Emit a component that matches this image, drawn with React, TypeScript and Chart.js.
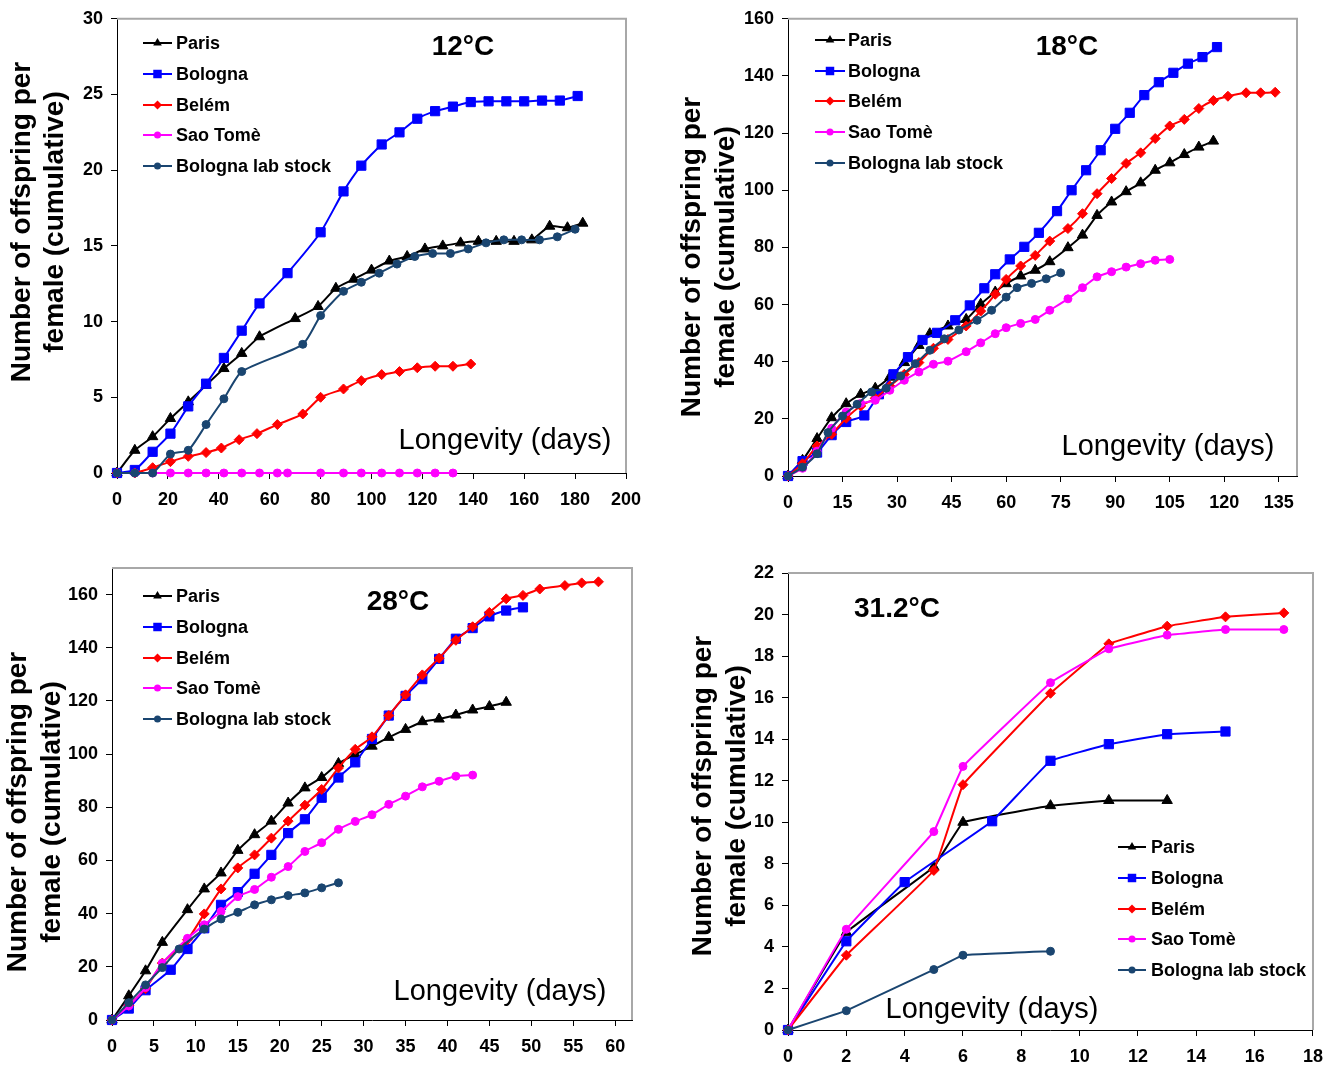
import React, { useEffect, useRef } from 'react';
import { Chart, registerables } from 'chart.js';

Chart.register(...registerables);

const FONT = '"Liberation Sans", Arial, Helvetica, sans-serif';

// ---------- series meta ----------
const seriesNames = ['Paris', 'Bologna', 'Belém', 'Sao Tomè', 'Bologna lab stock'];
const seriesColors = ['#000000', '#0000FF', '#FF0000', '#FF00FF', '#1A4570'];
const seriesMarkers = ['triangle', 'rect', 'rectRot', 'circle', 'circle'];
const markerRadius = [6, 6.5, 5, 4, 4];

// ---------- 12°C ----------
const paris12X = [0, 7, 14, 21, 28, 35, 42, 49, 56, 70, 79, 86, 93, 100, 107, 114, 121, 128, 135, 142, 149, 156, 163, 170, 177, 183];
const paris12Y = [0, 1.5, 2.4, 3.6, 4.7, 5.8, 6.9, 7.9, 9.0, 10.2, 11.0, 12.2, 12.8, 13.4, 14.0, 14.3, 14.8, 15.0, 15.2, 15.3, 15.3, 15.3, 15.4, 16.3, 16.2, 16.5];
const bologna12X = [0, 7, 14, 21, 28, 35, 42, 49, 56, 67, 80, 89, 96, 104, 111, 118, 125, 132, 139, 146, 153, 160, 167, 174, 181];
const bologna12Y = [0, 0.2, 1.4, 2.6, 4.4, 5.9, 7.6, 9.4, 11.2, 13.2, 15.9, 18.6, 20.3, 21.7, 22.5, 23.4, 23.9, 24.2, 24.5, 24.55, 24.55, 24.55, 24.6, 24.6, 24.9];
const belem12X = [0, 7, 14, 21, 28, 35, 41, 48, 55, 63, 73, 80, 89, 96, 104, 111, 118, 125, 132, 139];
const belem12Y = [0, 0, 0.35, 0.75, 1.1, 1.35, 1.65, 2.2, 2.6, 3.2, 3.9, 5.0, 5.55, 6.1, 6.5, 6.7, 6.95, 7.05, 7.05, 7.2];
const saoTome12X = [0, 7, 14, 21, 28, 35, 42, 49, 56, 63, 67, 80, 89, 96, 104, 111, 118, 125, 132];
const saoTome12Y = [0, 0, 0, 0, 0, 0, 0, 0, 0, 0, 0, 0, 0, 0, 0, 0, 0, 0, 0];
const labStock12X = [0, 7, 14, 21, 28, 35, 42, 49, 73, 80, 89, 96, 103, 110, 117, 124, 131, 138, 145, 152, 159, 166, 173, 180];
const labStock12Y = [0, 0, 0, 1.25, 1.5, 3.2, 4.9, 6.7, 8.5, 10.4, 12.0, 12.6, 13.2, 13.8, 14.3, 14.5, 14.5, 14.8, 15.2, 15.4, 15.4, 15.4, 15.6, 16.1];

// ---------- 18°C ----------
const paris18X = [0, 4, 8, 12, 16, 20, 24, 28, 32, 36, 39, 44, 49, 53, 57, 60, 64, 68, 72, 77, 81, 85, 89, 93, 97, 101, 105, 109, 113, 117];
const paris18Y = [0, 5.5, 13.1, 20.4, 25.3, 28.6, 30.7, 34.6, 39.7, 45.7, 49.8, 52.5, 54.8, 60.1, 64.4, 67.3, 70, 72, 75, 79.9, 84.3, 91.2, 95.9, 99.5, 102.6, 107, 109.6, 112.5, 115.1, 117.2];
const bologna18X = [0, 4, 8, 12, 16, 21, 25, 29, 33, 37, 41, 46, 50, 54, 57, 61, 65, 69, 74, 78, 82, 86, 90, 94, 98, 102, 106, 110, 114, 118];
const bologna18Y = [0, 5.2, 8.2, 14.3, 18.9, 21.2, 28.6, 35.6, 41.6, 47.6, 50.1, 54.5, 59.7, 65.7, 70.6, 75.8, 80.2, 85.1, 92.7, 100, 107, 114, 121.5, 127.1, 133.3, 137.8, 141.1, 144.3, 146.6, 150.1];
const belem18X = [0, 4, 8, 12, 16, 20, 24, 28, 32, 36, 40, 44, 49, 53, 57, 60, 64, 68, 72, 77, 81, 85, 89, 93, 97, 101, 105, 109, 113, 117, 121, 126, 130, 134];
const belem18Y = [0, 4.3, 10.5, 14.6, 20.2, 24.5, 27.2, 31.5, 35.6, 39.7, 44.7, 47.8, 52.5, 57.7, 63.6, 68.8, 73.5, 77.2, 82.2, 86.6, 91.8, 98.8, 104.1, 109.4, 113.1, 118.1, 122.5, 124.8, 128.6, 131.4, 132.9, 134.1, 134.1, 134.3];
const saoTome18X = [0, 4, 8, 12, 16, 20, 24, 28, 32, 36, 40, 44, 49, 53, 57, 60, 64, 68, 72, 77, 81, 85, 89, 93, 97, 101, 105];
const saoTome18Y = [0, 2.7, 8.7, 16.7, 22.4, 25.4, 26.5, 30, 33.5, 36.4, 39.1, 40.2, 43.5, 46.6, 49.8, 51.9, 53.4, 54.8, 58, 62, 65.9, 69.7, 71.5, 73.1, 74.3, 75.5, 75.8];
const labStock18X = [0, 4, 8, 11, 15, 19, 23, 27, 31, 35, 39, 43, 47, 52, 56, 60, 63, 67, 71, 75];
const labStock18Y = [0, 3.1, 7.8, 15.2, 21, 25.1, 29.4, 30.7, 35, 39.3, 44, 48, 51.1, 54.5, 58, 62.6, 65.9, 67.4, 69, 71.1];

// ---------- 28°C ----------
const paris28X = [0, 2, 4, 6, 9, 11, 13, 15, 17, 19, 21, 23, 25, 27, 29, 31, 33, 35, 37, 39, 41, 43, 45, 47];
const paris28Y = [0, 9.1, 18.5, 29.2, 41.5, 49.3, 55.3, 63.8, 69.7, 74.8, 81.6, 87.3, 91.2, 96.5, 99.9, 103, 106.3, 109.3, 112.2, 113.2, 114.7, 116.6, 117.9, 119.5];
const bologna28X = [0, 2, 4, 7, 9, 11, 13, 15, 17, 19, 21, 23, 25, 27, 29, 31, 33, 35, 37, 39, 41, 43, 45, 47, 49];
const bologna28Y = [0, 4.3, 11.2, 18.9, 26.7, 34.5, 43.3, 48.1, 55, 62.1, 70.3, 75.5, 83.6, 91.2, 96.9, 105.7, 114.5, 121.9, 128.2, 135.8, 143.4, 147.4, 151.8, 154, 155.2];
const belem28X = [0, 2, 4, 6, 9, 11, 13, 15, 17, 19, 21, 23, 25, 27, 29, 31, 33, 35, 37, 39, 41, 43, 45, 47, 49, 51, 54, 56, 58];
const belem28Y = [0, 5.5, 11.8, 21.4, 30.2, 39.9, 49.3, 57.2, 62.1, 68.4, 74.8, 80.8, 86.7, 94.8, 101.8, 106.5, 114.5, 122.3, 129.8, 136.1, 142.8, 147.9, 153.3, 158.4, 159.7, 162.1, 163.4, 164.4, 164.8];
const saoTome28X = [0, 2, 4, 6, 9, 11, 13, 15, 17, 19, 21, 23, 25, 27, 29, 31, 33, 35, 37, 39, 41, 43];
const saoTome28Y = [0, 5.3, 12.2, 21.4, 30.7, 35.8, 40.8, 46.4, 49.1, 53.7, 57.7, 63.4, 66.7, 71.7, 74.7, 77.2, 81.1, 84.2, 87.7, 89.8, 91.7, 92.1];
const labStock28X = [0, 2, 4, 6, 8, 11, 13, 15, 17, 19, 21, 23, 25, 27];
const labStock28Y = [0, 6.5, 13.2, 19.7, 26.7, 34.2, 38, 40.5, 43.3, 45.2, 46.8, 47.8, 49.7, 51.6];

// ---------- 31.2°C ----------
const paris31X = [0, 2, 5, 6, 9, 11, 13];
const paris31Y = [0, 4.7, 7.85, 10.0, 10.8, 11.05, 11.05];
const bologna31X = [0, 2, 4, 7, 9, 11, 13, 15];
const bologna31Y = [0, 4.27, 7.12, 10.05, 12.96, 13.76, 14.24, 14.37];
const belem31X = [0, 2, 5, 6, 9, 11, 13, 15, 17];
const belem31Y = [0, 3.6, 7.68, 11.81, 16.21, 18.59, 19.44, 19.89, 20.08];
const saoTome31X = [0, 2, 5, 6, 9, 11, 13, 15, 17];
const saoTome31Y = [0, 4.85, 9.55, 12.69, 16.72, 18.35, 19.01, 19.28, 19.28];
const labStock31X = [0, 2, 5, 6, 9];
const labStock31Y = [0, 0.93, 2.91, 3.6, 3.79];

// ---------- panel layout ----------
const panels = [
  {
    box: [0, 0, 666, 535], area: [117, 16, 626, 473],
    xMax: 200, xStep: 20, yMax: 30, yStep: 5,
    title: '12°C', titleXY: [463, 47], xLabelXY: [505, 441],
    yTitleX: [22, 55], yTitleY: 222,
    legendLine: [143, 172], legendText: 176, legendY: [43, 74, 105, 135, 166],
    tension: 0.2,
    xs: [paris12X, bologna12X, belem12X, saoTome12X, labStock12X],
    ys: [paris12Y, bologna12Y, belem12Y, saoTome12Y, labStock12Y],
  },
  {
    box: [666, 0, 667, 535], area: [788, 17, 1297, 476],
    xMax: 140, xStep: 15, yMax: 160, yStep: 20,
    title: '18°C', titleXY: [1067, 47], xLabelXY: [1168, 447],
    yTitleX: [692, 726], yTitleY: 257,
    legendLine: [815, 845], legendText: 848, legendY: [40, 71, 101, 132, 163],
    tension: 0.2,
    xs: [paris18X, bologna18X, belem18X, saoTome18X, labStock18X],
    ys: [paris18Y, bologna18Y, belem18Y, saoTome18Y, labStock18Y],
  },
  {
    box: [0, 535, 666, 533], area: [112, 568, 632, 1020],
    xMax: 62, xStep: 5, yMax: 170, yStep: 20,
    title: '28°C', titleXY: [398, 602], xLabelXY: [500, 992],
    yTitleX: [18, 52], yTitleY: 812,
    legendLine: [143, 172], legendText: 176, legendY: [596, 627, 658, 688, 719],
    tension: 0.2,
    xs: [paris28X, bologna28X, belem28X, saoTome28X, labStock28X],
    ys: [paris28Y, bologna28Y, belem28Y, saoTome28Y, labStock28Y],
  },
  {
    box: [666, 535, 667, 533], area: [788, 573, 1314, 1030],
    xMax: 18, xStep: 2, yMax: 22, yStep: 2,
    title: '31.2°C', titleXY: [897, 609], xLabelXY: [992, 1010],
    yTitleX: [703, 737], yTitleY: 796,
    legendLine: [1118, 1146], legendText: 1151, legendY: [847, 878, 909, 939, 970],
    tension: 0.05,
    xs: [paris31X, bologna31X, belem31X, saoTome31X, labStock31X],
    ys: [paris31Y, bologna31Y, belem31Y, saoTome31Y, labStock31Y],
  },
];

function drawMarker(ctx: CanvasRenderingContext2D, style: string, x: number, y: number, r: number, color: string) {
  ctx.save();
  ctx.fillStyle = color;
  ctx.beginPath();
  if (style === 'triangle') {
    ctx.moveTo(x, y - r);
    ctx.lineTo(x + r * 0.866, y + r * 0.5);
    ctx.lineTo(x - r * 0.866, y + r * 0.5);
    ctx.closePath();
  } else if (style === 'rect') {
    const s = r * Math.SQRT1_2;
    ctx.rect(x - s, y - s, 2 * s, 2 * s);
  } else if (style === 'rectRot') {
    ctx.moveTo(x, y - r);
    ctx.lineTo(x + r, y);
    ctx.lineTo(x, y + r);
    ctx.lineTo(x - r, y);
    ctx.closePath();
  } else {
    ctx.arc(x, y, r, 0, Math.PI * 2);
  }
  ctx.fill();
  ctx.restore();
}

const legendMarkerR = [5, 6, 4.5, 3.5, 3.5];

function Panel({ cfg }: { cfg: any }) {
  const ref = useRef<HTMLCanvasElement | null>(null);
  useEffect(() => {
    const [bx, by, bw, bh] = cfg.box;
    const [al, at, ar, ab] = cfg.area;
    const datasets = seriesNames.map((name, i) => ({
      label: name,
      data: cfg.xs[i].map((x: number, j: number) => ({ x, y: cfg.ys[i][j] })),
      borderColor: seriesColors[i],
      backgroundColor: seriesColors[i],
      borderWidth: 2,
      pointStyle: seriesMarkers[i],
      pointRadius: markerRadius[i],
      pointBorderWidth: 1,
      pointBorderColor: seriesColors[i],
      pointBackgroundColor: seriesColors[i],
      tension: cfg.tension,
      clip: false as any,
      order: 5 - i,
    }));

    const overlay = {
      id: 'overlay',
      beforeDatasetsDraw(chart: any) {
        const { ctx, chartArea } = chart;
        ctx.save();
        ctx.strokeStyle = '#A8A8A8';
        ctx.lineWidth = 2;
        ctx.beginPath();
        ctx.moveTo(chartArea.left, chartArea.top);
        ctx.lineTo(chartArea.right, chartArea.top);
        ctx.lineTo(chartArea.right, chartArea.bottom);
        ctx.stroke();
        ctx.restore();
      },
      afterDraw(chart: any) {
        const ctx: CanvasRenderingContext2D = chart.ctx;
        ctx.save();
        ctx.fillStyle = '#000';
        // temperature title
        ctx.font = `bold 28px ${FONT}`;
        ctx.textAlign = 'center';
        ctx.textBaseline = 'middle';
        ctx.fillText(cfg.title, cfg.titleXY[0] - bx, cfg.titleXY[1] - by);
        // x label
        ctx.font = `normal 29px ${FONT}`;
        ctx.fillText('Longevity (days)', cfg.xLabelXY[0] - bx, cfg.xLabelXY[1] - by);
        // y title
        ctx.font = `bold 28px ${FONT}`;
        const lines = ['Number of offspring per', 'female (cumulative)'];
        lines.forEach((ln, k) => {
          ctx.save();
          ctx.translate(cfg.yTitleX[k] - bx, cfg.yTitleY - by);
          ctx.rotate(-Math.PI / 2);
          ctx.fillText(ln, 0, 0);
          ctx.restore();
        });
        // legend
        ctx.font = `bold 18px ${FONT}`;
        ctx.textAlign = 'left';
        seriesNames.forEach((name, i) => {
          const y = cfg.legendY[i] - by;
          const x0 = cfg.legendLine[0] - bx;
          const x1 = cfg.legendLine[1] - bx;
          ctx.strokeStyle = seriesColors[i];
          ctx.lineWidth = 2;
          ctx.beginPath();
          ctx.moveTo(x0, y);
          ctx.lineTo(x1, y);
          ctx.stroke();
          drawMarker(ctx, seriesMarkers[i], (x0 + x1) / 2, y, legendMarkerR[i], seriesColors[i]);
          ctx.fillStyle = '#000';
          ctx.fillText(name, cfg.legendText - bx, y + 1);
        });
        ctx.restore();
      },
    };

    const tickFont = { family: FONT, size: 18, weight: 'bold' as const };
    const chart = new Chart(ref.current as HTMLCanvasElement, {
      type: 'line',
      data: { datasets: datasets as any },
      options: {
        responsive: false,
        animation: false,
        devicePixelRatio: 1,
        layout: { padding: { left: 0, top: at - by, right: bx + bw - ar, bottom: 0 } },
        plugins: { legend: { display: false }, tooltip: { enabled: false } },
        scales: {
          x: {
            type: 'linear',
            min: 0,
            max: cfg.xMax,
            ticks: {
              stepSize: cfg.xStep,
              includeBounds: false,
              autoSkip: false,
              maxRotation: 0,
              font: tickFont,
              color: '#000',
              padding: 10,
            },
            grid: { display: true, drawOnChartArea: false, drawTicks: true, tickLength: 6, color: '#000' },
            border: { display: true, color: '#000', width: 1 },
            afterFit: (s: any) => { s.height = by + bh - ab; },
          },
          y: {
            type: 'linear',
            min: 0,
            max: cfg.yMax,
            ticks: {
              stepSize: cfg.yStep,
              includeBounds: false,
              autoSkip: false,
              font: tickFont,
              color: '#000',
              padding: 8,
            },
            grid: { display: true, drawOnChartArea: false, drawTicks: true, tickLength: 6, color: '#000' },
            border: { display: true, color: '#000', width: 1 },
            afterFit: (s: any) => { s.width = al - bx; },
          },
        },
      } as any,
      plugins: [overlay],
    });
    return () => chart.destroy();
  }, []);
  const [bx, by, bw, bh] = cfg.box;
  return (
    <canvas
      ref={ref}
      width={bw}
      height={bh}
      style={{ position: 'absolute', left: bx, top: by, width: bw, height: bh }}
    />
  );
}

export default function App() {
  return (
    <div style={{ position: 'absolute', left: 0, top: 0, width: 1333, height: 1068, background: '#fff' }}>
      {panels.map((p, i) => (
        <Panel key={i} cfg={p} />
      ))}
    </div>
  );
}
